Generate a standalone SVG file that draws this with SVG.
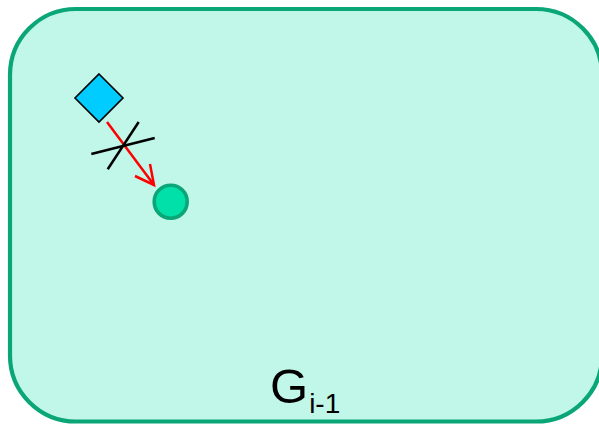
<svg xmlns="http://www.w3.org/2000/svg" width="599" height="426" viewBox="0 0 599 426">
<style>
.frame{fill:#C0F7E8;stroke:#0AA678;stroke-width:4.2}
.lbl{font-family:"Liberation Sans",Arial,sans-serif;fill:#000}
.cross{stroke:#000;stroke-width:2.5;stroke-linecap:butt}
.edge{stroke:#FF0000;stroke-width:2.5;fill:none}
</style>
<g id="frame">
<rect class="frame" x="10" y="9" width="592" height="412.5" rx="66" ry="66"/>
<text class="lbl" x="270" y="403" font-size="49">G<tspan font-size="28" dy="10" dx="1">i-1</tspan></text>
</g>
<g id="diamond">
<polygon points="99,74 123,98 99,122 75,98" fill="#00CCFF" stroke="#000" stroke-width="1.6"/>
</g>
<g id="circle">
<circle cx="170.7" cy="201.7" r="16.5" fill="#00E0A8" stroke="#0AA678" stroke-width="3.6"/>
</g>
<g id="connectors">
<line class="edge" x1="107" y1="122" x2="154" y2="185"/>
<polyline class="edge" points="135,176 154,185 150,164"/>
<line class="cross" x1="138.7" y1="122" x2="107.7" y2="169.3"/>
<line class="cross" x1="91.3" y1="154" x2="154.7" y2="138"/>
</g>
</svg>
